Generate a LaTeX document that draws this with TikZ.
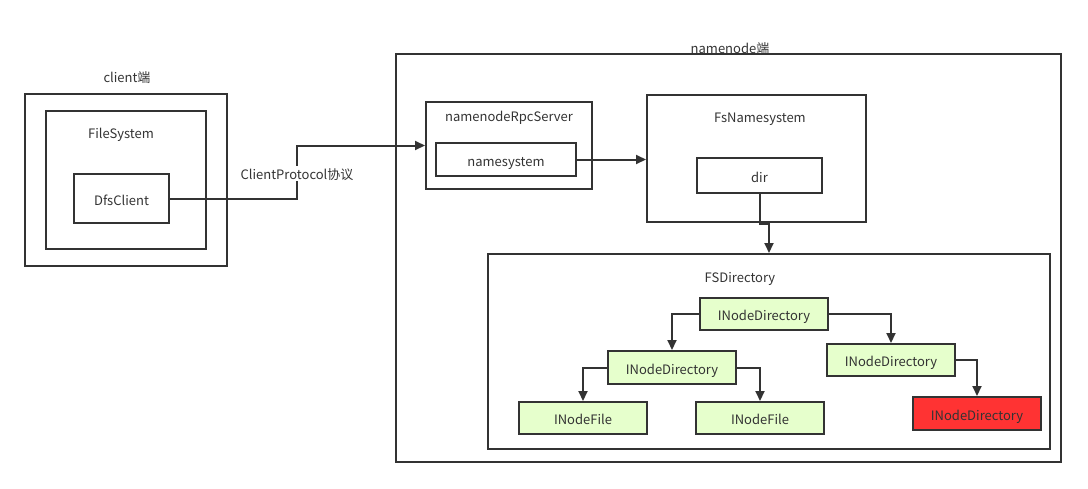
\documentclass[tikz,border=0pt]{standalone}
\usepackage{fontspec}
\setmainfont{Noto Sans CJK SC}
\usetikzlibrary{arrows.meta}
\definecolor{lc}{HTML}{333333}
\definecolor{tc}{HTML}{333333}
\definecolor{gfill}{HTML}{E6FFCC}
\definecolor{rfill}{HTML}{FF3333}
\begin{document}
\begin{tikzpicture}[x=1pt,y=-1pt,
  box/.style={draw=lc,line width=2pt,inner sep=0pt,text=tc,text height=13pt,text depth=0pt,font=\fontsize{13}{15}\selectfont},
  gbox/.style={box,fill=gfill,minimum width=128pt,minimum height=32pt},
  rbox/.style={box,fill=rfill,minimum width=128pt,minimum height=32pt},
  lbl/.style={text=tc,inner sep=1pt,text height=13pt,text depth=0pt,font=\fontsize{13}{15}\selectfont},
  arr/.style={draw=lc,line width=2pt,-{Triangle[length=10pt,width=9pt]}},
  ln/.style={draw=lc,line width=2pt}
]
\useasboundingbox (0,0) rectangle (1088,488);
% client side
\node[box,minimum width=202pt,minimum height=172pt] (client) at (126,180) {};
\node[lbl] (clientlbl) at (127,76) {client端};
\node[box,minimum width=160pt,minimum height=138pt] (fs) at (126,180) {};
\node[lbl] (fslbl) at (121,132) {FileSystem};
\node[box,minimum width=95pt,minimum height=49pt] (dfs) at (121.5,198.5) {DfsClient};
% namenode side
\node[box,minimum width=665pt,minimum height=408pt] (nn) at (728.5,258) {};
\node[lbl] (nnlbl) at (730,47) {namenode端};
\node[box,minimum width=166pt,minimum height=87pt] (rpc) at (509,145.5) {};
\node[lbl] (rpclbl) at (509,115) {namenodeRpcServer};
\node[box,minimum width=140pt,minimum height=33pt] (nsys) at (506,159.5) {namesystem};
\node[box,minimum width=219pt,minimum height=127pt] (fsn) at (756.5,158.5) {};
\node[lbl] (fsnlbl) at (760,116) {FsNamesystem};
\node[box,minimum width=125pt,minimum height=35pt] (dir) at (759.5,175.5) {dir};
\node[box,minimum width=562pt,minimum height=195pt] (fsd) at (769,351.5) {};
\node[lbl] (fsdlbl) at (740,276) {FSDirectory};
\node[gbox] (root) at (764,314) {INodeDirectory};
\node[gbox,minimum height=33pt] (midl) at (672,367.5) {INodeDirectory};
\node[gbox] (midr) at (891,360) {INodeDirectory};
\node[gbox] (filel) at (583,418) {INodeFile};
\node[gbox] (filer) at (760,418) {INodeFile};
\node[rbox,minimum height=33pt] (red) at (977,413.5) {INodeDirectory};
% connectors
\coordinate (cp) at (297,173);
\draw[arr] (dfs.east) -| (cp) |- (rpc.west);
\node[lbl,fill=white] (cplbl) at (cp) {ClientProtocol协议};
\draw[arr] (nsys.east) -- (nsys.east -| fsn.west);
\draw[arr] (dir.south) -- (dir.south |- 0,224) -| (fsd.north);
\draw[arr] (root.west) -| (midl.north);
\draw[arr] (root.east) -| (midr.north);
\draw[arr] (midl.west) -| (filel.north);
\draw[arr] (midl.east) -| (filer.north);
\draw[arr] (midr.east) -| (red.north);
\end{tikzpicture}
\end{document}
